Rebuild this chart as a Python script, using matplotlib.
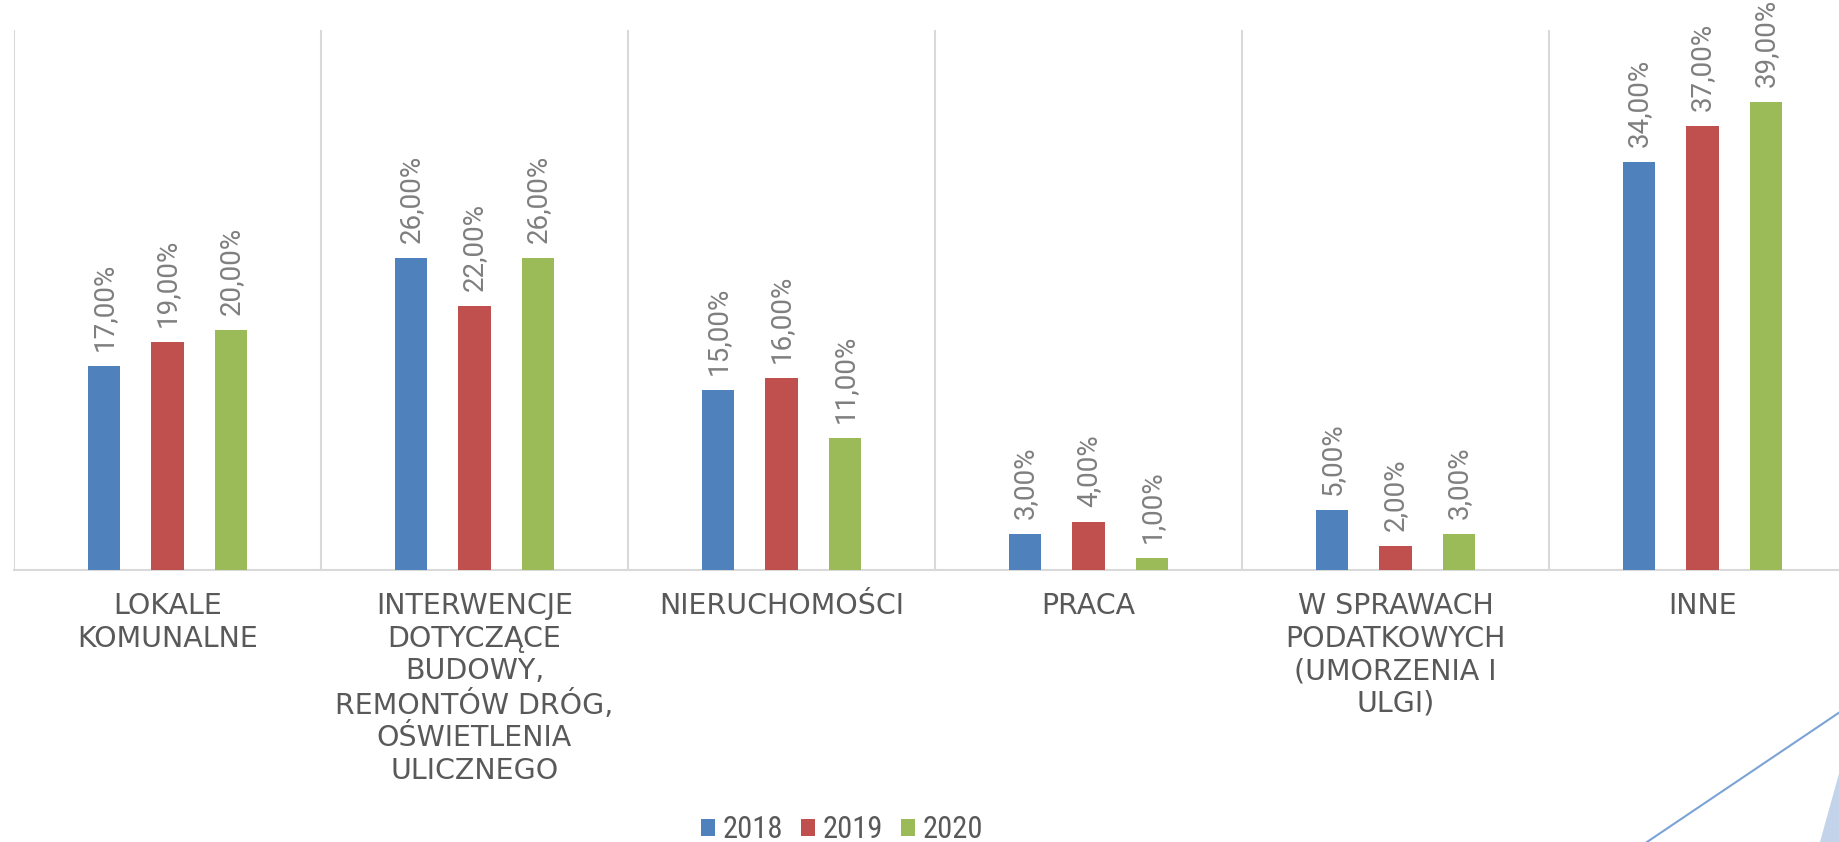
import matplotlib
matplotlib.use("Agg")
import matplotlib.pyplot as plt
from matplotlib import font_manager
from matplotlib.patches import Polygon
from matplotlib.lines import Line2D
import numpy as np

# data
categories = [
    "LOKALE\nKOMUNALNE",
    "INTERWENCJE\nDOTYCZĄCE\nBUDOWY,\nREMONTÓW DRÓG,\nOŚWIETLENIA\nULICZNEGO",
    "NIERUCHOMOŚCI",
    "PRACA",
    "W SPRAWACH\nPODATKOWYCH\n(UMORZENIA I\nULGI)",
    "INNE",
]
years = ["2018", "2019", "2020"]
values_2018 = [17, 26, 15, 3, 5, 34]
values_2019 = [19, 22, 16, 4, 2, 37]
values_2020 = [20, 26, 11, 1, 3, 39]
colors = ["#4f81bd", "#c0504d", "#9bbb59"]

installed = {f.name for f in font_manager.fontManager.ttflist}
narrow = next((f for f in ["Liberation Sans Narrow", "Roboto Condensed", "Open Sans Condensed"]
               if f in installed), None)
label_font = "Roboto" if "Roboto" in installed else "DejaVu Sans"
if narrow:
    legend_prop = {"family": narrow, "size": 22}
else:
    legend_prop = {"family": "DejaVu Sans", "stretch": "condensed", "size": 18}

fig = plt.figure(figsize=(18.4, 8.42), dpi=100)
W, H = 1840, 842
left, right, top, base = 14, 1856, 30, 570
ax = fig.add_axes([left / W, 1 - base / H, (right - left) / W, (base - top) / H])

x = np.arange(len(categories))
width = 0.107
offset = 0.207
series = [values_2018, values_2019, values_2020]

for k, (vals, year, col) in enumerate(zip(series, years, colors)):
    xs = x + (k - 1) * offset
    ax.bar(xs, vals, width, color=col, label=year, zorder=3)
    for xi, v in zip(xs, vals):
        ax.annotate(f"{v:.2f}%".replace(".", ","), (xi, v), xytext=(0, 11),
                    textcoords="offset points", rotation=90, ha="center", va="bottom",
                    fontsize=20, color="#7f7f7f", family=label_font)

ax.set_xlim(-0.5, len(categories) - 0.5)
ax.set_ylim(0, 45)

# category separators
for b in np.arange(-0.5, len(categories), 1.0):
    ax.axvline(b, color="#d9d9d9", linewidth=1.5, zorder=1)

for s in ["top", "right", "left"]:
    ax.spines[s].set_visible(False)
ax.spines["bottom"].set_color("#d9d9d9")
ax.spines["bottom"].set_linewidth(1.5)
ax.set_yticks([])
ax.set_xticks(x)
ax.set_xticklabels(categories, fontsize=20.5, color="#595959", linespacing=1.2,
                   multialignment="center")
ax.tick_params(axis="x", length=0, pad=16)

fig.legend(loc="center", bbox_to_anchor=(0.4576, 0.0143), ncol=3, frameon=False,
           prop=legend_prop, labelcolor="#595959",
           handlelength=0.45, handleheight=0.45, handletextpad=0.25, columnspacing=0.6)

# slide decoration bottom right
fig.add_artist(Line2D([1647 / W, 1.0], [0.0, 1 - 712 / H], transform=fig.transFigure,
                      color="#7ba3d6", linewidth=1.5))
fig.add_artist(Polygon([[1820 / W, 0.0], [1.0, 1 - 770 / H], [1.0, 0.0]], closed=True,
                       transform=fig.transFigure, facecolor="#c3d4ea", edgecolor="none"))

fig.savefig("out.png", dpi=100)
